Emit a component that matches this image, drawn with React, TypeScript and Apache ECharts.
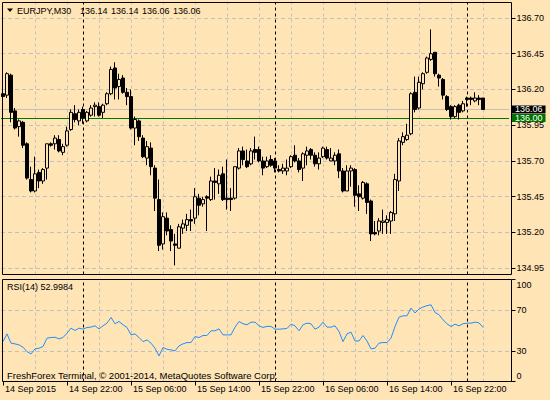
import { useEffect, useRef } from "react";
import * as echarts from "echarts";

// ---- Data ----
const SYMBOL = "EURJPY,M30";
const START_UTC = Date.UTC(2015, 8, 14, 14, 0); // first bar 14 Sep 2015 14:00
const BAR_MINUTES = 30;
const SLOTS = 127; // bars shown + empty right shift

const opens = [
  136.17, 136.16, 136.30, 136.05, 135.94, 135.97, 135.82, 135.57, 135.49, 135.62,
  135.56, 135.65, 135.82, 135.82, 135.85, 135.76, 135.81, 135.92, 136.03, 135.98,
  136.06, 135.98, 136.02, 136.08, 136.08, 136.04, 136.10, 136.17, 136.35, 136.22,
  136.28, 136.18, 136.15, 135.93, 135.98, 135.86, 135.72, 135.79, 135.65, 135.43,
  135.12, 135.30, 135.22, 135.12, 135.09, 135.23, 135.25, 135.29, 135.30, 135.44,
  135.40, 135.45, 135.43, 135.56, 135.54, 135.61, 135.44, 135.44, 135.44, 135.65,
  135.77, 135.70, 135.68, 135.78, 135.78, 135.70, 135.66, 135.71, 135.70, 135.64,
  135.63, 135.63, 135.66, 135.74, 135.70, 135.65, 135.74, 135.78, 135.74, 135.68,
  135.73, 135.78, 135.70, 135.70, 135.75, 135.63, 135.49, 135.63, 135.64, 135.47,
  135.44, 135.54, 135.42, 135.20, 135.21, 135.27, 135.27, 135.28, 135.33, 135.56,
  135.83, 135.85, 135.89, 136.18, 136.07, 136.24, 136.32, 136.41, 136.46, 136.30,
  136.27, 136.15, 136.08, 136.01, 136.09, 136.05, 136.14, 136.14, 136.12, 136.14,
  136.14,
];
const closes = [
  136.15, 136.31, 136.04, 135.93, 135.98, 135.81, 135.58, 135.49, 135.61, 135.56,
  135.64, 135.82, 135.81, 135.86, 135.77, 135.80, 135.91, 136.04, 135.99, 136.04,
  136.00, 136.04, 136.07, 136.09, 136.02, 136.09, 136.17, 136.34, 136.21, 136.27,
  136.18, 136.15, 135.93, 135.99, 135.87, 135.73, 135.80, 135.66, 135.44, 135.11,
  135.31, 135.21, 135.14, 135.11, 135.24, 135.26, 135.29, 135.28, 135.45, 135.39,
  135.43, 135.44, 135.56, 135.55, 135.60, 135.43, 135.43, 135.43, 135.66, 135.77,
  135.71, 135.66, 135.77, 135.76, 135.70, 135.65, 135.70, 135.67, 135.65, 135.63,
  135.65, 135.65, 135.73, 135.70, 135.64, 135.75, 135.77, 135.74, 135.68, 135.72,
  135.79, 135.72, 135.72, 135.74, 135.63, 135.49, 135.63, 135.65, 135.46, 135.45,
  135.55, 135.41, 135.19, 135.19, 135.28, 135.28, 135.29, 135.34, 135.57, 135.84,
  135.87, 135.88, 136.17, 136.06, 136.25, 136.31, 136.42, 136.45, 136.31, 136.28,
  136.16, 136.06, 136.01, 136.08, 136.04, 136.10, 136.13, 136.13, 136.14, 136.13,
  136.06,
];
const lows = [
  136.02, 136.14, 135.97, 135.92, 135.87, 135.79, 135.57, 135.48, 135.48, 135.51,
  135.54, 135.57, 135.80, 135.78, 135.76, 135.74, 135.80, 135.91, 135.97, 135.95,
  135.96, 135.97, 136.01, 136.01, 136.01, 136.00, 136.09, 136.16, 136.13, 136.13,
  136.17, 136.09, 135.92, 135.81, 135.84, 135.72, 135.67, 135.60, 135.35, 135.07,
  135.08, 135.18, 135.07, 134.97, 135.09, 135.19, 135.21, 135.21, 135.26, 135.32,
  135.38, 135.21, 135.42, 135.43, 135.47, 135.42, 135.36, 135.35, 135.43, 135.64,
  135.67, 135.65, 135.67, 135.71, 135.69, 135.60, 135.65, 135.66, 135.62, 135.62,
  135.61, 135.60, 135.65, 135.69, 135.62, 135.56, 135.67, 135.71, 135.66, 135.64,
  135.72, 135.71, 135.70, 135.67, 135.58, 135.48, 135.49, 135.52, 135.38, 135.35,
  135.43, 135.33, 135.14, 135.18, 135.18, 135.19, 135.19, 135.19, 135.28, 135.49,
  135.81, 135.84, 135.88, 136.04, 136.06, 136.20, 136.31, 136.40, 136.29, 136.22,
  136.13, 136.05, 135.99, 136.00, 135.99, 136.04, 136.08, 136.09, 136.11, 136.09,
  136.06,
];
const highs = [
  136.19, 136.32, 136.31, 136.07, 135.99, 135.98, 135.83, 135.66, 135.73, 135.64,
  135.65, 135.82, 135.83, 135.88, 135.88, 135.82, 135.94, 136.06, 136.09, 136.06,
  136.08, 136.05, 136.09, 136.11, 136.11, 136.10, 136.18, 136.36, 136.39, 136.31,
  136.30, 136.21, 136.20, 136.01, 135.99, 135.88, 135.84, 135.83, 135.67, 135.57,
  135.34, 135.34, 135.25, 135.19, 135.26, 135.29, 135.33, 135.36, 135.51, 135.47,
  135.45, 135.46, 135.59, 135.65, 135.64, 135.66, 135.71, 135.51, 135.66, 135.79,
  135.80, 135.78, 135.79, 135.87, 135.80, 135.73, 135.73, 135.74, 135.72, 135.67,
  135.68, 135.71, 135.74, 135.81, 135.72, 135.76, 135.80, 135.79, 135.76, 135.76,
  135.80, 135.80, 135.79, 135.76, 135.78, 135.65, 135.67, 135.67, 135.65, 135.53,
  135.56, 135.55, 135.43, 135.28, 135.30, 135.36, 135.32, 135.35, 135.61, 135.86,
  135.90, 135.96, 136.18, 136.29, 136.29, 136.32, 136.43, 136.62, 136.46, 136.31,
  136.28, 136.16, 136.09, 136.09, 136.10, 136.12, 136.15, 136.15, 136.18, 136.16,
  136.14,
];
const rsiValues = [
  39.1, 46.7, 37.6, 36.9, 35.9, 33.6, 29.3, 27.0, 32.0, 32.6,
  34.3, 42.5, 43.1, 43.4, 41.8, 43.1, 47.4, 52.3, 50.0, 52.3,
  51.3, 53.0, 53.3, 54.6, 51.6, 54.6, 57.2, 62.8, 56.6, 58.9,
  55.6, 53.0, 45.7, 46.7, 43.1, 39.1, 40.8, 37.6, 32.6, 25.1,
  33.3, 31.6, 31.0, 30.0, 34.9, 36.9, 38.2, 38.2, 44.1, 43.1,
  45.1, 45.1, 49.7, 49.7, 51.6, 45.7, 45.7, 45.7, 53.3, 58.8,
  56.6, 55.6, 58.2, 58.2, 54.6, 53.0, 54.0, 54.0, 51.3, 51.3,
  51.6, 52.0, 56.2, 54.6, 49.7, 55.6, 57.2, 56.6, 51.3, 53.3,
  58.2, 53.3, 53.3, 54.6, 49.0, 39.1, 46.7, 48.4, 39.7, 39.7,
  45.1, 39.7, 32.0, 32.6, 37.6, 38.2, 38.2, 42.5, 53.9, 63.1,
  64.4, 64.4, 72.0, 67.2, 71.0, 73.0, 74.4, 75.2, 67.6, 65.5,
  60.5, 56.6, 53.9, 56.2, 54.6, 56.6, 57.2, 57.2, 58.2, 57.5,
  52.9984,
];
const priceTicks = [134.95, 135.2, 135.45, 135.7, 135.95, 136.2, 136.45, 136.7];
const rsiTicks = [0, 30, 70, 100];
const rsiLevels = [30, 70];
const rsiMin = 0;
const rsiMax = 100;
const timeTickLabels = [
  "14 Sep 2015", "14 Sep 22:00", "15 Sep 06:00", "15 Sep 14:00",
  "15 Sep 22:00", "16 Sep 06:00", "16 Sep 14:00", "16 Sep 22:00",
];
const TIME_LABEL_STEP = 16;
const GRID_STEP = 8;
const daySeparatorBars = [20, 68, 116];
const levelPrice = 136.0;
const RSI_PERIOD = 14;

// ---- Styles / layout ----
const BG = "#ffe4b5";
const FONT = "'Liberation Sans', Arial, sans-serif";
const GRID_GRAY = "#c0c0c0";
const RSI_GRID = { left: 1, top: 279.5, width: 508, height: 102 };

const MON = ["Jan", "Feb", "Mar", "Apr", "May", "Jun", "Jul", "Aug", "Sep", "Oct", "Nov", "Dec"];
const pad = (n: number) => (n < 10 ? "0" + n : "" + n);

export default function App() {
  const ref = useRef<HTMLDivElement>(null);
  useEffect(() => {
    const el = ref.current!;
    const chart = echarts.init(el, undefined, { renderer: "svg", width: 550, height: 400 });

    const cats = Array.from({ length: SLOTS }, (_, k) => {
      const d = new Date(START_UTC + k * BAR_MINUTES * 60000);
      return `${d.getUTCDate()} ${MON[d.getUTCMonth()]} ${pad(d.getUTCHours())}:${pad(d.getUTCMinutes())}`;
    });
    const candles = opens.map((o, i) => [o, closes[i], lows[i], highs[i]]);
    const last = opens.length - 1;
    const bid = closes[last];
    const ohlcLast = [opens[last], highs[last], lows[last], closes[last]];

    const vGrid: number[] = [];
    for (let k = GRID_STEP; k < SLOTS; k += GRID_STEP) vGrid.push(k);
    const vLines = [
      ...vGrid.map((k) => ({ xAxis: cats[k], lineStyle: { color: GRID_GRAY, type: [3, 3], width: 1 } })),
      ...daySeparatorBars.map((k) => ({ xAxis: cats[k], lineStyle: { color: "#000", type: [3, 3], width: 1 } })),
    ];

    const labelShown = (i: number) => i % TIME_LABEL_STEP === 0 && i / TIME_LABEL_STEP < timeTickLabels.length;

    const boxLabel = (text: string, bg: string) => ({
      show: true,
      position: "end",
      distance: 3,
      formatter: text,
      backgroundColor: bg,
      color: "#fff",
      fontSize: 9,
      fontFamily: FONT,
      lineHeight: 8,
      padding: [0, 3, 0, 3],
    });

    const txt = (x: number, y: number, text: string, size = 9) => ({
      type: "text",
      z: 50,
      x,
      y,
      silent: true,
      style: { text, fontSize: size, fontFamily: FONT, fill: "#000", verticalAlign: "middle" },
    });

    const labelStyle = { color: "#000", fontSize: 9, fontFamily: FONT, margin: 5 };

    // RSI scale labels: the min/max ones are pulled inside the pane, like the terminal does,
    // by giving them a rich-text box whose padding shifts the glyphs off the tick.
    const rsiLabel = (v: number) => {
      const s = " " + String(v); // leading space keeps the single-digit label as a non-empty token
      if (v === rsiMax) return `{t|${s.trim()}}`;
      if (v === rsiMin) return `{b|${s.trim()}}`;
      return s.trim();
    };

    const graphics: any[] = [
      { type: "rect", z: 50, shape: { x: 2.5, y: 2.5, width: 509, height: 272 }, style: { fill: "none", stroke: "#000", lineWidth: 1 }, silent: true },
      { type: "rect", z: 50, shape: { x: 2.5, y: RSI_GRID.top, width: 509, height: RSI_GRID.height }, style: { fill: "none", stroke: "#000", lineWidth: 1 }, silent: true },
      { type: "polygon", z: 50, shape: { points: [[7, 8.5], [13, 8.5], [10, 12]] }, style: { fill: "#000" }, silent: true },
      txt(17, 10.5, SYMBOL),
      ...ohlcLast.map((v, i) => txt(80 + i * 31, 10.5, v.toFixed(2))),
      txt(7, 287, `RSI(${RSI_PERIOD}) ${rsiValues[last].toFixed(4)}`),
      txt(7, 375.5, "FreshForex Terminal, © 2001-2014, MetaQuotes Software Corp.", 9.5),
    ];

    const option: any = {
      animation: false,
      backgroundColor: BG,
      textStyle: { fontFamily: FONT },
      grid: [{ left: 1, top: 2.5, width: 508, height: 272 }, RSI_GRID],
      xAxis: [
        { gridIndex: 0, type: "category", data: cats, show: false },
        {
          gridIndex: 1,
          type: "category",
          data: cats,
          axisLine: { show: false },
          splitLine: { show: false },
          axisTick: {
            show: true,
            alignWithLabel: true,
            interval: (i: number) => labelShown(i),
            length: 4,
            lineStyle: { color: "#000" },
          },
          axisLabel: {
            interval: (i: number) => labelShown(i),
            formatter: (_v: string, i: number) => timeTickLabels[i / TIME_LABEL_STEP] ?? "",
            align: "left",
            margin: 3,
            padding: [0, 0, 0, 2],
            color: "#000",
            fontSize: 9,
            fontFamily: FONT,
          },
        },
      ],
      yAxis: [
        {
          gridIndex: 0,
          type: "value",
          position: "right",
          min: 134.906,
          max: 136.808,
          offset: 2.5,
          axisLine: { show: false },
          splitLine: { show: false },
          axisTick: { show: true, length: 4, lineStyle: { color: "#000" }, customValues: priceTicks },
          axisLabel: {
            ...labelStyle,
            customValues: priceTicks,
            formatter: (v: number) => v.toFixed(2),
            lineHeight: 8,
          },
        },
        {
          gridIndex: 1,
          type: "value",
          position: "right",
          min: rsiMin,
          max: rsiMax,
          offset: 2.5,
          axisLine: { show: false },
          splitLine: { show: false },
          axisTick: { show: true, length: 4, lineStyle: { color: "#000" }, customValues: rsiTicks },
          axisLabel: {
            ...labelStyle,
            customValues: rsiTicks,
            showMinLabel: true,
            showMaxLabel: true,
            hideOverlap: false,
            formatter: (v: number) => rsiLabel(Number(v)),
            rich: {
              t: { padding: [10, 0, 0, 0], fontSize: 9, fontFamily: FONT, color: "#000" },
              b: { padding: [0, 0, 11, 0], fontSize: 9, fontFamily: FONT, color: "#000" },
            },
          },
        },
      ],
      series: [
        {
          type: "candlestick",
          xAxisIndex: 0,
          yAxisIndex: 0,
          data: candles,
          barWidth: 3,
          silent: true,
          z: 3,
          itemStyle: { color: BG, color0: "#000", borderColor: "#000", borderColor0: "#000", borderWidth: 1 },
          markLine: {
            silent: true,
            symbol: ["none", "none"],
            z: 1,
            animation: false,
            label: { show: false },
            emphasis: { disabled: true },
            data: [
              ...vLines,
              ...priceTicks.map((p) => ({ yAxis: p, lineStyle: { color: GRID_GRAY, type: [4, 3], width: 1 } })),
              { yAxis: bid, lineStyle: { color: GRID_GRAY, type: "solid", width: 1 }, label: boxLabel(bid.toFixed(2), "#000") },
              { yAxis: levelPrice, lineStyle: { color: "#007800", type: "solid", width: 1 }, label: boxLabel(levelPrice.toFixed(2), "#007000") },
            ],
          },
        },
        {
          type: "line",
          xAxisIndex: 1,
          yAxisIndex: 1,
          data: rsiValues,
          symbol: "none",
          showSymbol: false,
          silent: true,
          z: 3,
          lineStyle: { color: "#1e90ff", width: 1 },
          markLine: {
            silent: true,
            symbol: ["none", "none"],
            z: 1,
            animation: false,
            label: { show: false },
            emphasis: { disabled: true },
            data: [
              ...vLines,
              ...rsiLevels.map((v) => ({ yAxis: v, lineStyle: { color: GRID_GRAY, type: [4, 3], width: 1 } })),
            ],
          },
        },
      ],
      graphic: graphics,
    };

    chart.setOption(option);
    return () => chart.dispose();
  }, []);
  return <div ref={ref} style={{ position: "fixed", left: 0, top: 0, width: 550, height: 400, background: BG }} />;
}
